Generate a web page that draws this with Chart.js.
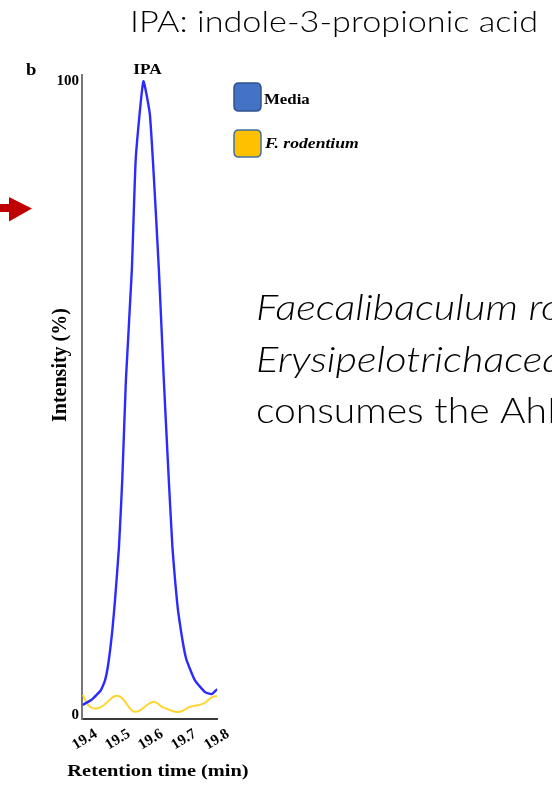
<!DOCTYPE html>
<html>
<head>
<meta charset="utf-8">
<script src="https://cdn.jsdelivr.net/npm/chart.js@4.4.1/dist/chart.umd.min.js"></script>
<style>
  html, body { margin: 0; padding: 0; background: #fff; overflow: hidden; }
  canvas { display: block; }
</style>
</head>
<body>
<canvas id="chart" width="552" height="788"></canvas>
<script>
// Retention times (min) and relative intensities (%) of the IPA peak
const mediaTime = [19.402, 19.429, 19.457, 19.470, 19.480, 19.492, 19.500, 19.512, 19.522, 19.533,
                   19.551, 19.563, 19.586, 19.606, 19.633, 19.648, 19.663, 19.674, 19.682, 19.692,
                   19.715, 19.742, 19.773, 19.793, 19.810];
const mediaIntensity = [1.6, 2.4, 3.9, 5.5, 8.2, 13.4, 18.1, 26.5, 37.1, 52.8,
                        70.2, 87.9, 100, 94.6, 70.2, 52.8, 37.1, 26.5, 21.3, 16.1,
                        9.0, 5.5, 3.6, 3.3, 4.1];
const rodentiumTime = [19.402, 19.424, 19.455, 19.500, 19.520, 19.561, 19.616, 19.642,
                       19.682, 19.702, 19.727, 19.768, 19.793, 19.810];
const rodentiumIntensity = [3.2, 1.3, 1.2, 3.0, 2.7, 0.5, 2.1, 1.3,
                            0.5, 0.6, 1.3, 1.8, 2.8, 3.0];
const timeTicks = [19.4, 19.5, 19.6, 19.7, 19.8];
const intensityTicks = [0, 100];
const seriesNames = ['Media', 'F. rodentium'];
const peakName = 'IPA';
const panelLetter = 'b';
const xTitle = 'Retention time (min)';
const yTitle = 'Intensity (%)';
const headline = 'IPA: indole-3-propionic acid';
const bodyLines = ['Faecalibaculum rodentium', 'Erysipelotrichaceae', 'consumes the AhR'];

const SERIF = '"Liberation Serif", "Times New Roman", serif';
const SANS = 'Lato, "Open Sans", sans-serif';

function stretchedText(ctx, text, x, y, font, align, sx) {
  ctx.save();
  ctx.font = font;
  ctx.textAlign = align;
  ctx.textBaseline = 'alphabetic';
  ctx.translate(x, y);
  ctx.scale(sx, 1);
  ctx.fillText(text, 0, 0);
  ctx.restore();
}

// horizontal scale that makes `sample` span `width` pixels in `font`
function widthScale(ctx, sample, font, width) {
  ctx.save();
  ctx.font = font;
  const w = ctx.measureText(sample).width;
  ctx.restore();
  return w > 0 ? width / w : 1;
}

function roundedBox(ctx, x, y, w, h, r, fill, stroke) {
  ctx.save();
  ctx.beginPath();
  ctx.moveTo(x + r, y);
  ctx.lineTo(x + w - r, y);
  ctx.quadraticCurveTo(x + w, y, x + w, y + r);
  ctx.lineTo(x + w, y + h - r);
  ctx.quadraticCurveTo(x + w, y + h, x + w - r, y + h);
  ctx.lineTo(x + r, y + h);
  ctx.quadraticCurveTo(x, y + h, x, y + h - r);
  ctx.lineTo(x, y + r);
  ctx.quadraticCurveTo(x, y, x + r, y);
  ctx.closePath();
  ctx.fillStyle = fill;
  ctx.fill();
  ctx.lineWidth = 1.5;
  ctx.strokeStyle = stroke;
  ctx.stroke();
  ctx.restore();
}

const annotations = {
  id: 'annotations',
  afterDraw(chart) {
    const ctx = chart.ctx;
    const xs = chart.scales.x;
    const area = chart.chartArea;
    ctx.save();
    ctx.fillStyle = '#000';

    // panel letter and peak name
    stretchedText(ctx, panelLetter, 26, 75, 'bold 17px ' + SERIF, 'left', 1.1);
    const peakX = xs.getPixelForValue(mediaTime[mediaIntensity.indexOf(100)]);
    stretchedText(ctx, peakName, peakX + 4, area.top - 1, 'bold 15px ' + SERIF, 'center', 1.15);

    // axis titles
    stretchedText(ctx, xTitle, 158, 776, 'bold 17px ' + SERIF, 'center', 1.2);
    ctx.save();
    ctx.translate(66, 365);
    ctx.rotate(-Math.PI / 2);
    ctx.font = 'bold 20px ' + SERIF;
    ctx.textAlign = 'center';
    ctx.textBaseline = 'alphabetic';
    ctx.fillText(yTitle, 0, 0);
    ctx.restore();

    // legend
    roundedBox(ctx, 234, 83, 27, 28, 5, '#4472c4', '#2f528f');
    roundedBox(ctx, 234, 130, 27, 27, 5, '#ffc000', '#41719c');
    ctx.fillStyle = '#000';
    stretchedText(ctx, seriesNames[0], 264, 104, 'bold 14px ' + SERIF, 'left', 1.2);
    stretchedText(ctx, seriesNames[1], 265, 148, 'italic bold 14px ' + SERIF, 'left', 1.26);

    // side text
    ctx.fillStyle = '#000';
    const headFont = '300 30px ' + SANS;
    stretchedText(ctx, headline, 130, 32, headFont, 'left',
                  widthScale(ctx, headline, headFont, 408));
    const bodyItalic = 'italic 300 36px ' + SANS;
    const bodyUpright = '300 36px ' + SANS;
    const italicSx = widthScale(ctx, 'Faecalibaculum', bodyItalic, 262);
    const uprightSx = widthScale(ctx, 'consumes the Ah', bodyUpright, 291);
    stretchedText(ctx, bodyLines[0], 256, 320, bodyItalic, 'left', italicSx);
    stretchedText(ctx, bodyLines[1], 256, 372, bodyItalic, 'left', italicSx);
    stretchedText(ctx, bodyLines[2], 256, 423, bodyUpright, 'left', uprightSx);

    // red arrow
    ctx.fillStyle = '#c00000';
    ctx.beginPath();
    ctx.moveTo(0, 204);
    ctx.lineTo(9, 204);
    ctx.lineTo(9, 197);
    ctx.lineTo(32, 208.5);
    ctx.lineTo(9, 221.5);
    ctx.lineTo(9, 212);
    ctx.lineTo(0, 212);
    ctx.closePath();
    ctx.fill();
    ctx.restore();
  }
};

new Chart(document.getElementById('chart').getContext('2d'), {
  type: 'scatter',
  data: {
    datasets: [
      {
        label: seriesNames[0],
        data: mediaTime.map((t, i) => ({ x: t, y: mediaIntensity[i] })),
        showLine: true,
        borderColor: '#2b2bff',
        borderWidth: 2.4,
        pointRadius: 0,
        tension: 0.15,
        fill: false
      },
      {
        label: seriesNames[1],
        data: rodentiumTime.map((t, i) => ({ x: t, y: rodentiumIntensity[i] })),
        showLine: true,
        borderColor: '#ffd530',
        borderWidth: 2,
        pointRadius: 0,
        tension: 0.4,
        fill: false
      }
    ]
  },
  options: {
    responsive: false,
    animation: false,
    devicePixelRatio: 1,
    layout: { padding: { left: 0, top: 75, right: 552 - 217.3, bottom: 0 }, autoPadding: false },
    plugins: { legend: { display: false }, tooltip: { enabled: false } },
    scales: {
      x: {
        type: 'linear',
        min: 19.40,
        max: 19.81,
        afterBuildTicks: s => { s.ticks = timeTicks.map(v => ({ value: v })); },
        afterFit: s => { s.height = 69; s.paddingLeft = 0; s.paddingRight = 0; },
        grid: { display: false, drawTicks: false },
        border: { display: true, color: '#3a3a3a', width: 2 },
        ticks: {
          autoSkip: false,
          minRotation: 32, maxRotation: 32,
          padding: 6,
          labelOffset: 14,
          color: '#000',
          font: { family: SERIF, weight: 'bold', size: 15 },
          callback: v => Number(v).toFixed(1)
        }
      },
      y: {
        type: 'linear',
        min: -0.63,
        max: 101,
        afterBuildTicks: s => { s.ticks = intensityTicks.map(v => ({ value: v })); },
        afterFit: s => { s.width = 82; },
        grid: { display: false, drawTicks: false },
        border: { display: true, color: '#777', width: 2 },
        ticks: {
          autoSkip: false,
          padding: 3,
          color: '#000',
          font: { family: SERIF, weight: 'bold', size: 15 },
          callback: v => String(v)
        }
      }
    }
  },
  plugins: [annotations]
});
</script>
</body>
</html>
